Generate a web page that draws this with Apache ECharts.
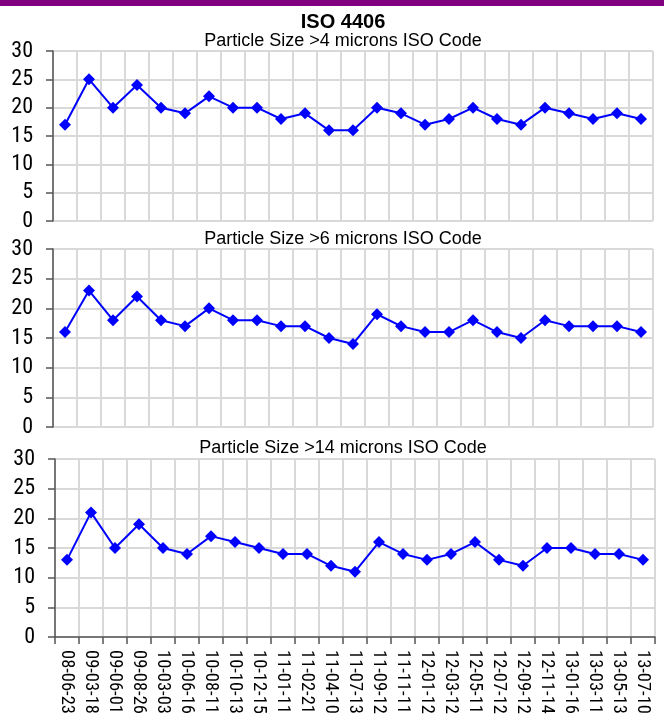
<!DOCTYPE html>
<html>
<head>
<meta charset="utf-8">
<script src="https://cdn.jsdelivr.net/npm/echarts@6/dist/echarts.min.js"></script>
<style>
  html, body { margin: 0; padding: 0; background: #fff; }
  #topbar { position: absolute; left: 0; top: 0; width: 664px; height: 6px; background: #800080; }
  #chart { width: 664px; height: 722px; }
</style>
</head>
<body>
<div id="chart"></div>
<div id="topbar"></div>
<script>
var dates = ['08-06-23', '09-03-18', '09-06-01', '09-08-26', '10-03-03', '10-06-16', '10-08-11',
  '10-10-13', '10-12-15', '11-01-11', '11-02-21', '11-04-10', '11-07-13', '11-09-12', '11-11-11',
  '12-01-12', '12-03-12', '12-05-11', '12-07-12', '12-09-12', '12-11-14', '13-01-16', '13-03-11',
  '13-05-13', '13-07-10']

var size4 = [17, 25, 20, 24, 20, 19, 22, 20, 20, 18, 19, 16, 16, 20, 19, 17, 18, 20, 18, 17, 20, 19, 18, 19, 18]
var size6 = [16, 23, 18, 22, 18, 17, 20, 18, 18, 17, 17, 15, 14, 19, 17, 16, 16, 18, 16, 15, 18, 17, 17, 17, 16]
var size14 = [13, 21, 15, 19, 15, 14, 17, 16, 15, 14, 14, 12, 11, 16, 14, 13, 14, 16, 13, 12, 15, 15, 14, 14, 13]

var panelTitles = ['Particle Size >4 microns ISO Code', 'Particle Size >6 microns ISO Code', 'Particle Size >14 microns ISO Code']

var narrow = "'Roboto Condensed', 'Open Sans Condensed', 'Noto Sans Condensed', 'Noto Sans ExtraCondensed', " +
  "'Liberation Sans Narrow', 'Arial Narrow', 'Liberation Sans', sans-serif"
var gridColor = '#d9d9d9'
var axisColor = '#555'

var grids = [
  { left: 53, top: 51, width: 600, height: 170, outerBoundsMode: 'none' },
  { left: 53, top: 249, width: 600, height: 178, outerBoundsMode: 'none' },
  { left: 55, top: 459, width: 600, height: 178, outerBoundsMode: 'none' }
]

function xAxis(i, showLabels) {
  return {
    type: 'category',
    gridIndex: i,
    data: dates,
    boundaryGap: true,
    axisLine: { show: showLabels, lineStyle: { color: axisColor, width: 1.5 } },
    axisTick: { show: showLabels, length: 7, lineStyle: { color: axisColor, width: 1.5 } },
    axisLabel: {
      show: showLabels, rotate: -90, interval: 0, margin: 13,
      fontFamily: narrow, fontSize: 18.5, color: '#000'
    },
    splitLine: { show: true, interval: 0, lineStyle: { color: gridColor, width: 2 } }
  }
}

function yAxis(i) {
  return {
    type: 'value',
    gridIndex: i,
    min: 0, max: 30, interval: 5,
    axisLine: { show: true, lineStyle: { color: axisColor, width: 1.5 } },
    axisTick: { show: true, length: 7, lineStyle: { color: axisColor, width: 1.5 } },
    axisLabel: { margin: 20, fontFamily: narrow, fontSize: 22, color: '#000' },
    splitLine: { show: true, lineStyle: { color: gridColor, width: 2 } }
  }
}

function lineSeries(i, name, values) {
  return {
    name: name,
    type: 'line',
    xAxisIndex: i,
    yAxisIndex: i,
    data: values,
    symbol: 'diamond',
    symbolSize: 12,
    itemStyle: { color: '#0000ff' },
    lineStyle: { color: '#0000ff', width: 2 },
    animation: false
  }
}

var sans = 'Liberation Sans, Arial, sans-serif'

var chart = echarts.init(document.getElementById('chart'))
chart.setOption({
  animation: false,
  title: [
    { text: 'ISO 4406', left: 338, top: 7, textAlign: 'center',
      textStyle: { fontFamily: sans, fontSize: 20, fontWeight: 'bold', color: '#000' } },
    { text: panelTitles[0], left: 338, top: 27, textAlign: 'center',
      textStyle: { fontFamily: sans, fontSize: 18, fontWeight: 'normal', color: '#000' } },
    { text: panelTitles[1], left: 338, top: 225, textAlign: 'center',
      textStyle: { fontFamily: sans, fontSize: 18, fontWeight: 'normal', color: '#000' } },
    { text: panelTitles[2], left: 338, top: 434, textAlign: 'center',
      textStyle: { fontFamily: sans, fontSize: 18, fontWeight: 'normal', color: '#000' } }
  ],
  grid: grids,
  xAxis: [xAxis(0, false), xAxis(1, false), xAxis(2, true)],
  yAxis: [yAxis(0), yAxis(1), yAxis(2)],
  series: [
    lineSeries(0, '>4 microns', size4),
    lineSeries(1, '>6 microns', size6),
    lineSeries(2, '>14 microns', size14)
  ]
})
</script>
</body>
</html>
